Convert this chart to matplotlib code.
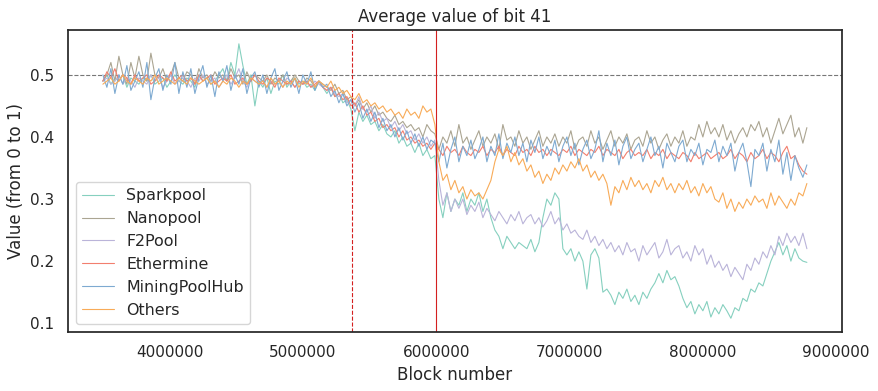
import numpy as np
import matplotlib
matplotlib.use("Agg")
import matplotlib.pyplot as plt
import seaborn as sns

sns.set_theme(style="white", context="notebook")
plt.rcParams['font.family'] = ['DejaVu Sans']

start_block = 3500000
block_step = 30000

sparkpool = [
    0.49, 0.50, 0.485, 0.495, 0.49, 0.50, 0.48, 0.495, 0.49, 0.485,
    0.495, 0.49, 0.50, 0.485, 0.49, 0.495, 0.48, 0.49, 0.50, 0.49,
    0.485, 0.495, 0.49, 0.48, 0.50, 0.49, 0.495, 0.485, 0.49, 0.50,
    0.51, 0.49, 0.52, 0.50, 0.55, 0.515, 0.485, 0.50, 0.45, 0.49,
    0.48, 0.495, 0.47, 0.49, 0.485, 0.50, 0.48, 0.49, 0.495, 0.485,
    0.49, 0.48, 0.485, 0.475, 0.49, 0.48,
    0.47, 0.48, 0.465, 0.47, 0.455, 0.46, 0.445, 0.41, 0.44, 0.425,
    0.435, 0.42, 0.425, 0.41, 0.42, 0.405, 0.40, 0.41, 0.39, 0.40,
    0.385, 0.39, 0.375, 0.39, 0.37, 0.38, 0.365, 0.37,
    0.30, 0.27, 0.31, 0.28, 0.30, 0.29, 0.31, 0.28, 0.30, 0.29,
    0.31, 0.28, 0.30, 0.27, 0.25, 0.24, 0.22, 0.24, 0.23, 0.22,
    0.23, 0.225, 0.22, 0.235, 0.215, 0.23, 0.27, 0.30, 0.29, 0.31,
    0.30, 0.22, 0.21, 0.22, 0.20, 0.215, 0.20, 0.155, 0.21, 0.22,
    0.205, 0.15, 0.155, 0.145, 0.13, 0.15, 0.14, 0.155, 0.135, 0.145,
    0.13, 0.15, 0.14, 0.155, 0.165, 0.18, 0.165, 0.185, 0.17, 0.175,
    0.16, 0.14, 0.125, 0.135, 0.115, 0.13, 0.12, 0.135, 0.11, 0.125,
    0.115, 0.13, 0.12, 0.108, 0.125, 0.12, 0.14, 0.135, 0.155, 0.15,
    0.165, 0.16, 0.18, 0.20, 0.215, 0.23, 0.21, 0.225, 0.20, 0.22,
    0.205, 0.20, 0.198,
]

nanopool = [
    0.49, 0.50, 0.52, 0.49, 0.53, 0.50, 0.485, 0.52, 0.495, 0.53,
    0.50, 0.49, 0.535, 0.50, 0.495, 0.51, 0.49, 0.50, 0.52, 0.495,
    0.49, 0.505, 0.50, 0.485, 0.51, 0.495, 0.50, 0.49, 0.505, 0.495,
    0.50, 0.49, 0.51, 0.495, 0.50, 0.485, 0.505, 0.49, 0.50, 0.495,
    0.49, 0.50, 0.485, 0.495, 0.49, 0.50, 0.485, 0.49, 0.50, 0.49,
    0.485, 0.495, 0.49, 0.48, 0.49, 0.485,
    0.48, 0.475, 0.485, 0.47, 0.475, 0.46, 0.465, 0.45, 0.46, 0.445,
    0.455, 0.44, 0.45, 0.435, 0.44, 0.43, 0.425, 0.435, 0.42, 0.425,
    0.415, 0.42, 0.41, 0.415, 0.40, 0.42, 0.41, 0.405,
    0.38, 0.40, 0.39, 0.41, 0.385, 0.42, 0.39, 0.40, 0.38, 0.395,
    0.41, 0.385, 0.40, 0.39, 0.405, 0.38, 0.42, 0.395, 0.40, 0.385,
    0.41, 0.39, 0.40, 0.38, 0.395, 0.41, 0.385, 0.40, 0.39, 0.405,
    0.385, 0.40, 0.39, 0.41, 0.38, 0.395, 0.40, 0.385, 0.41, 0.39,
    0.40, 0.38, 0.395, 0.41, 0.385, 0.40, 0.39, 0.405, 0.38, 0.395,
    0.40, 0.385, 0.41, 0.39, 0.40, 0.38, 0.395, 0.405, 0.385, 0.40,
    0.39, 0.41, 0.385, 0.40, 0.395, 0.42, 0.40, 0.425, 0.405, 0.415,
    0.40, 0.42, 0.395, 0.41, 0.39, 0.405, 0.415, 0.40, 0.42, 0.41,
    0.425, 0.40, 0.415, 0.39, 0.41, 0.43, 0.405, 0.42, 0.435, 0.40,
    0.415, 0.39, 0.415,
]

f2pool = [
    0.49, 0.495, 0.485, 0.49, 0.50, 0.485, 0.495, 0.49, 0.48, 0.495,
    0.49, 0.485, 0.50, 0.49, 0.495, 0.48, 0.49, 0.50, 0.485, 0.49,
    0.495, 0.49, 0.48, 0.495, 0.49, 0.50, 0.485, 0.49, 0.495, 0.48,
    0.49, 0.50, 0.485, 0.495, 0.51, 0.49, 0.48, 0.495, 0.49, 0.485,
    0.49, 0.48, 0.495, 0.485, 0.49, 0.48, 0.495, 0.49, 0.48, 0.49,
    0.485, 0.49, 0.48, 0.49, 0.485, 0.48,
    0.475, 0.48, 0.47, 0.465, 0.47, 0.455, 0.46, 0.45, 0.465, 0.445,
    0.44, 0.45, 0.43, 0.44, 0.425, 0.43, 0.415, 0.425, 0.41, 0.42,
    0.405, 0.41, 0.395, 0.405, 0.39, 0.40, 0.385, 0.395,
    0.33, 0.29, 0.31, 0.28, 0.30, 0.285, 0.30, 0.275, 0.29, 0.28,
    0.295, 0.27, 0.285, 0.275, 0.265, 0.28, 0.27, 0.26, 0.275, 0.265,
    0.28, 0.26, 0.27, 0.275, 0.26, 0.27, 0.255, 0.265, 0.28, 0.26,
    0.27, 0.25, 0.26, 0.245, 0.25, 0.24, 0.235, 0.25, 0.23, 0.24,
    0.225, 0.235, 0.22, 0.23, 0.215, 0.225, 0.21, 0.23, 0.215, 0.22,
    0.20, 0.225, 0.21, 0.22, 0.23, 0.205, 0.215, 0.235, 0.21, 0.22,
    0.225, 0.205, 0.215, 0.20, 0.225, 0.21, 0.22, 0.195, 0.21, 0.19,
    0.20, 0.185, 0.195, 0.175, 0.19, 0.18, 0.17, 0.195, 0.185, 0.205,
    0.195, 0.215, 0.205, 0.225, 0.21, 0.24, 0.225, 0.245, 0.23, 0.24,
    0.225, 0.245, 0.22,
]

ethermine = [
    0.49, 0.505, 0.495, 0.51, 0.49, 0.50, 0.495, 0.485, 0.50, 0.49,
    0.495, 0.50, 0.485, 0.49, 0.50, 0.495, 0.49, 0.505, 0.49, 0.495,
    0.50, 0.49, 0.495, 0.485, 0.50, 0.49, 0.495, 0.50, 0.485, 0.49,
    0.495, 0.49, 0.50, 0.485, 0.49, 0.495, 0.485, 0.49, 0.50, 0.49,
    0.485, 0.495, 0.49, 0.48, 0.495, 0.49, 0.485, 0.49, 0.48, 0.49,
    0.485, 0.49, 0.48, 0.485, 0.49, 0.48,
    0.475, 0.48, 0.465, 0.47, 0.46, 0.465, 0.45, 0.455, 0.44, 0.45,
    0.435, 0.44, 0.425, 0.43, 0.415, 0.42, 0.41, 0.415, 0.40, 0.41,
    0.395, 0.40, 0.39, 0.395, 0.385, 0.39, 0.38, 0.39,
    0.38, 0.37, 0.385, 0.375, 0.38, 0.37, 0.385, 0.375, 0.37, 0.38,
    0.375, 0.385, 0.37, 0.38, 0.375, 0.385, 0.37, 0.38, 0.375, 0.37,
    0.385, 0.375, 0.38, 0.37, 0.385, 0.375, 0.38, 0.37, 0.38, 0.375,
    0.37, 0.38, 0.375, 0.385, 0.37, 0.38, 0.375, 0.37, 0.38, 0.375,
    0.385, 0.37, 0.38, 0.375, 0.37, 0.38, 0.365, 0.375, 0.38, 0.37,
    0.375, 0.37, 0.38, 0.365, 0.375, 0.37, 0.38, 0.365, 0.375, 0.37,
    0.365, 0.375, 0.37, 0.36, 0.375, 0.365, 0.37, 0.375, 0.365, 0.37,
    0.375, 0.365, 0.37, 0.38, 0.365, 0.375, 0.37, 0.36, 0.375, 0.365,
    0.37, 0.38, 0.365, 0.375, 0.37, 0.36, 0.375, 0.385, 0.365, 0.37,
    0.355, 0.345, 0.34,
]

miningpoolhub = [
    0.50, 0.48, 0.51, 0.47, 0.50, 0.485, 0.515, 0.475, 0.49, 0.505,
    0.48, 0.52, 0.46, 0.495, 0.51, 0.475, 0.50, 0.485, 0.52, 0.47,
    0.505, 0.48, 0.51, 0.47, 0.495, 0.515, 0.48, 0.50, 0.465, 0.505,
    0.49, 0.515, 0.475, 0.50, 0.485, 0.51, 0.47, 0.495, 0.505, 0.48,
    0.50, 0.47, 0.495, 0.51, 0.475, 0.49, 0.505, 0.48, 0.495, 0.47,
    0.50, 0.485, 0.505, 0.475, 0.49, 0.48,
    0.485, 0.465, 0.475, 0.455, 0.47, 0.45, 0.46, 0.44, 0.455, 0.43,
    0.445, 0.425, 0.44, 0.415, 0.43, 0.41, 0.42, 0.40, 0.415, 0.395,
    0.41, 0.39, 0.405, 0.385, 0.40, 0.38, 0.395, 0.39,
    0.36, 0.39, 0.35, 0.38, 0.40, 0.36, 0.385, 0.37, 0.395, 0.365,
    0.38, 0.40, 0.36, 0.385, 0.37, 0.405, 0.365, 0.39, 0.375, 0.40,
    0.37, 0.39, 0.36, 0.395, 0.375, 0.40, 0.365, 0.385, 0.37, 0.395,
    0.36, 0.385, 0.40, 0.37, 0.39, 0.355, 0.38, 0.395, 0.365, 0.38,
    0.41, 0.36, 0.39, 0.37, 0.395, 0.355, 0.385, 0.40, 0.365, 0.38,
    0.39, 0.36, 0.38, 0.40, 0.37, 0.385, 0.35, 0.39, 0.375, 0.36,
    0.385, 0.395, 0.36, 0.38, 0.37, 0.39, 0.355, 0.38, 0.375, 0.395,
    0.36, 0.385, 0.37, 0.39, 0.345, 0.375, 0.39, 0.36, 0.32, 0.38,
    0.37, 0.39, 0.345, 0.38, 0.36, 0.395, 0.34, 0.375, 0.33, 0.37,
    0.35, 0.335, 0.355,
]

others = [
    0.485, 0.49, 0.495, 0.485, 0.49, 0.50, 0.49, 0.485, 0.495, 0.49,
    0.485, 0.495, 0.49, 0.50, 0.485, 0.49, 0.495, 0.49, 0.485, 0.495,
    0.49, 0.485, 0.495, 0.49, 0.485, 0.49, 0.495, 0.485, 0.49, 0.48,
    0.49, 0.485, 0.495, 0.49, 0.48, 0.49, 0.485, 0.495, 0.49, 0.485,
    0.49, 0.48, 0.495, 0.485, 0.49, 0.48, 0.49, 0.485, 0.495, 0.48,
    0.49, 0.485, 0.495, 0.48, 0.49, 0.485,
    0.48, 0.49, 0.475, 0.48, 0.47, 0.475, 0.465, 0.46, 0.47, 0.455,
    0.46, 0.45, 0.455, 0.445, 0.45, 0.44, 0.445, 0.435, 0.44, 0.43,
    0.445, 0.435, 0.44, 0.43, 0.45, 0.44, 0.445, 0.42,
    0.36, 0.33, 0.34, 0.315, 0.33, 0.31, 0.32, 0.30, 0.315, 0.305,
    0.31, 0.30, 0.315, 0.33, 0.36, 0.38, 0.37, 0.385, 0.36, 0.375,
    0.355, 0.365, 0.345, 0.355, 0.335, 0.345, 0.325, 0.34, 0.33, 0.35,
    0.34, 0.355, 0.345, 0.36, 0.35, 0.365, 0.345, 0.355, 0.335, 0.345,
    0.33, 0.34, 0.325, 0.29, 0.32, 0.31, 0.33, 0.315, 0.335, 0.32,
    0.33, 0.315, 0.325, 0.31, 0.33, 0.32, 0.335, 0.315, 0.325, 0.31,
    0.325, 0.315, 0.33, 0.31, 0.32, 0.305, 0.325, 0.31, 0.32, 0.30,
    0.295, 0.31, 0.285, 0.30, 0.28, 0.295, 0.285, 0.30, 0.29, 0.305,
    0.295, 0.30, 0.285, 0.31, 0.29, 0.305, 0.295, 0.285, 0.30, 0.29,
    0.31, 0.305, 0.325,
]

series_names = ["Sparkpool", "Nanopool", "F2Pool", "Ethermine", "MiningPoolHub", "Others"]
series_values = [sparkpool, nanopool, f2pool, ethermine, miningpoolhub, others]
series_colors = ["#86d0bf", "#aba592", "#bab4d9", "#f27f6e", "#7eaad1", "#f8ab58"]

event_dashed = 5370000
event_solid = 6000000
reference_level = 0.5

fig = plt.figure(figsize=(8.79, 3.91), dpi=100)
ax = fig.add_axes([0.077, 0.151, 0.881, 0.772])

for name, vals, col in zip(series_names, series_values, series_colors):
    x = start_block + block_step * np.arange(len(vals))
    ax.plot(x, vals, color=col, lw=0.8, label=name)

ax.axhline(reference_level, color="#777777", ls="--", lw=0.8, zorder=0.5)
ax.axvline(event_dashed, color="#d42020", ls="--", lw=0.8)
ax.axvline(event_solid, color="#d42020", ls="-", lw=0.8)

ax.ticklabel_format(axis="x", style="plain", useOffset=False)
ax.set_xticks([4000000, 5000000, 6000000, 7000000, 8000000, 9000000])
ax.set_yticks([0.1, 0.2, 0.3, 0.4, 0.5])
ax.set_xlabel("Block number", fontsize=12)
ax.set_ylabel("Value (from 0 to 1)", fontsize=12)
ax.set_title("Average value of bit 41", fontsize=12)
ax.tick_params(labelsize=11)
ax.legend(loc="lower left", fontsize=11.4)

fig.savefig("out.png", dpi=100)
